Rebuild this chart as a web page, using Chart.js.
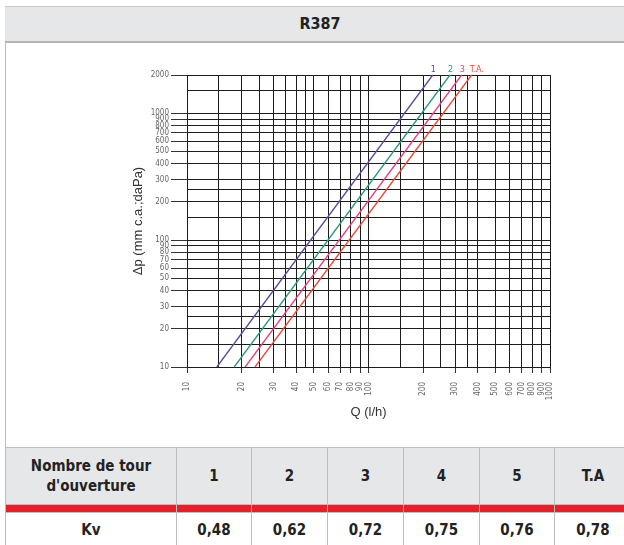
<!DOCTYPE html>
<html>
<head>
<meta charset="utf-8">
<script src="https://cdn.jsdelivr.net/npm/chart.js@4.4.1/dist/chart.umd.min.js"></script>
<style>
  html, body { margin: 0; padding: 0; background: #fff; }
  body { width: 624px; height: 545px; position: relative; overflow: hidden;
         font-family: "Liberation Sans Narrow", "DejaVu Sans Condensed", "Liberation Sans", sans-serif; }
  .frame { position: absolute; left: 5px; top: 6px; width: 640px; height: 560px; border-left: 1px solid #bdbdbd; }
  .title { position: absolute; left: 5px; top: 6px; width: 640px; height: 34px;
           background: #e6e7e8; border-top: 1px solid #c6c6c6; border-bottom: 2px solid #b4b4b4;
           text-align: center; line-height: 34px; font-weight: bold; font-size: 16px; color: #222; }
  .title span { position: absolute; left: 0; width: 630px; text-align: center; }
  #chartBox { position: absolute; left: 0; top: 45px; width: 624px; height: 400px; }
  table { position: absolute; left: 5px; top: 447px; width: 626px; border-collapse: collapse; table-layout: fixed; }
  td { border: 1px solid #bdbdbd; text-align: center; font-weight: bold; font-size: 15px; color: #222; padding: 0; }
  tr.head td { background: #e6e7e8; height: 56px; line-height: 20px; }
  tr.red td { background: #e3202b; height: 7px; border-top: 1px solid #bdbdbd; border-bottom: 1px solid #bdbdbd; }
  tr.kv td { background: #fff; height: 34px; }
</style>
</head>
<body>
<div class="frame"></div>
<div class="title"><span>R387</span></div>
<div id="chartBox"><canvas id="lossChart" width="624" height="400"></canvas></div>
<table id="kvTable"></table>
<script>
// Courbes Δp / Q (extrémités à 10 et 2000 daPa)
const pressureEnds = [10, 2000];
const flowLine1 = [14.6, 226];
const flowLine2 = [18.2, 281];
const flowLine3 = [20.9, 326];
const flowLineTA = [23.7, 370];
const seriesNames = ["1", "2", "3", "T.A."];
const seriesColors = ["#5a4c9e", "#2f9a72", "#e0457f", "#ea4a3a"];

// Graduations
const xLabelTicks = [10, 20, 30, 40, 50, 60, 70, 80, 90, 100, 200, 300, 400, 500, 600, 700, 800, 900, 1000];
const xGridTicks = [10, 15, 20, 25, 30, 35, 40, 45, 50, 60, 70, 80, 90, 100, 150, 200, 250, 300, 350, 400, 500, 600, 700, 800, 900, 1000];
const yLabelTicks = [10, 20, 30, 40, 50, 60, 70, 80, 90, 100, 200, 300, 400, 500, 600, 700, 800, 900, 1000, 2000];
const yGridTicks = [10, 15, 20, 25, 30, 40, 50, 60, 70, 80, 90, 100, 150, 200, 250, 300, 400, 500, 600, 700, 800, 900, 1000, 1500, 2000];

// Tableau Kv
const turnHeaders = ["1", "2", "3", "4", "5", "T.A"];
const kvValues = ["0,48", "0,62", "0,72", "0,75", "0,76", "0,78"];

function buildTable() {
  const table = document.getElementById("kvTable");
  const widths = [171, 75, 76, 76, 76, 75, 77];
  let html = "<colgroup>" + widths.map((w) => `<col style="width:${w}px">`).join("") + "</colgroup>";
  html += '<tr class="head"><td>Nombre de tour<br>d\'ouverture</td>' + turnHeaders.map((t) => `<td>${t}</td>`).join("") + "</tr>";
  html += '<tr class="red">' + widths.map(() => "<td></td>").join("") + "</tr>";
  html += '<tr class="kv"><td>Kv</td>' + kvValues.map((v) => `<td>${v}</td>`).join("") + "</tr>";
  table.innerHTML = html;
}

const flows = [flowLine1, flowLine2, flowLine3, flowLineTA];

const endLabels = {
  id: "endLabels",
  afterDatasetsDraw(chart) {
    const ctx = chart.ctx;
    ctx.save();
    ctx.font = "9px 'Liberation Sans Narrow', 'DejaVu Sans Condensed', sans-serif";
    ctx.textAlign = "left";
    ctx.textBaseline = "bottom";
    chart.data.datasets.forEach((ds, i) => {
      const pts = chart.getDatasetMeta(i).data;
      const last = pts[pts.length - 1];
      ctx.fillStyle = ds.borderColor;
      ctx.fillText(seriesNames[i], last.x - 2, last.y - 1);
    });
    ctx.restore();
  },
};

function initLossChart(canvas) {
  const datasets = flows.map((f, i) => ({
    label: seriesNames[i],
    data: f.map((q, k) => ({ x: q, y: pressureEnds[k] })),
    borderColor: seriesColors[i],
    borderWidth: 1.3,
    pointRadius: 0,
    showLine: true,
    fill: false,
  }));

  const tickFont = { family: "'Liberation Sans Narrow', 'DejaVu Sans Condensed', sans-serif", size: 8 };

  new Chart(canvas, {
    type: "scatter",
    data: { datasets: datasets },
    plugins: [endLabels],
    options: {
      responsive: false,
      animation: false,
      clip: false,
      layout: { padding: { left: 130, right: 74, top: 30, bottom: 20 } },
      plugins: { legend: { display: false }, tooltip: { enabled: false } },
      scales: {
        x: {
          type: "logarithmic",
          min: 10,
          max: 1000,
          afterBuildTicks: (scale) => { scale.ticks = xGridTicks.map((v) => ({ value: v })); },
          afterFit: (scale) => { scale.height = 58; },
          grid: {
            color: "#1c1c1c",
            lineWidth: 1,
            tickLength: 6,
            tickColor: (c) => (c.tick && xLabelTicks.includes(c.tick.value) ? "#333" : "rgba(0,0,0,0)"),
          },
          border: { display: true, color: "#1c1c1c" },
          ticks: {
            autoSkip: false,
            minRotation: 90,
            maxRotation: 90,
            padding: 9,
            color: "#666",
            font: tickFont,
            callback: function (value) {
              return xLabelTicks.includes(value) ? String(value) : "";
            },
          },
          title: {
            display: true,
            text: "Q (l/h)",
            color: "#333",
            font: { family: "'Liberation Sans', sans-serif", size: 13 },
            padding: { top: 0, bottom: 5 },
          },
        },
        y: {
          type: "logarithmic",
          min: 10,
          max: 2000,
          afterBuildTicks: (scale) => { scale.ticks = yGridTicks.map((v) => ({ value: v })); },
          afterFit: (scale) => { scale.width = 57; },
          grid: {
            color: "#1c1c1c",
            lineWidth: 1,
            tickLength: 16,
            tickColor: (c) => (c.tick && yLabelTicks.includes(c.tick.value) ? "#333" : "rgba(0,0,0,0)"),
          },
          border: { display: true, color: "#1c1c1c" },
          ticks: {
            autoSkip: false,
            padding: 2,
            color: "#666",
            font: tickFont,
            callback: function (value) {
              return yLabelTicks.includes(value) ? String(value) : "";
            },
          },
          title: {
            display: true,
            text: "Δp (mm c.a.;daPa)",
            color: "#333",
            font: { family: "'Liberation Sans', sans-serif", size: 13 },
            padding: { top: 1, bottom: 0 },
          },
        },
      },
    },
  });
}

buildTable();
initLossChart(document.getElementById("lossChart"));
</script>
</body>
</html>
